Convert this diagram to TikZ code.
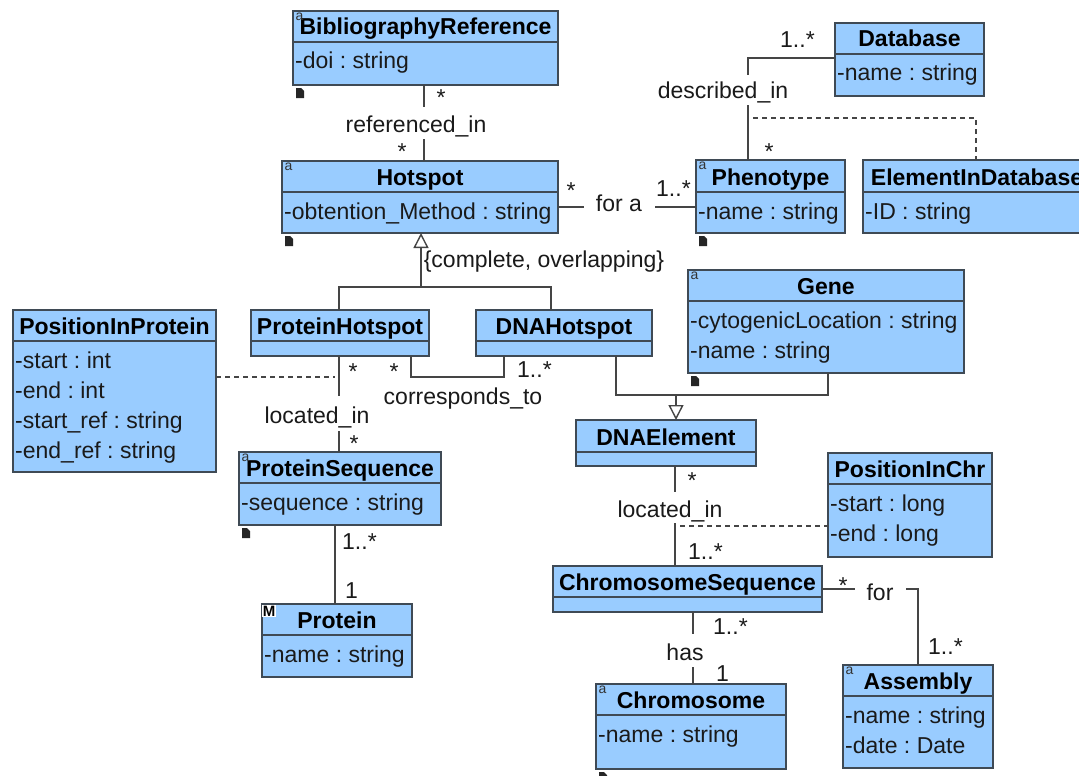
\documentclass[tikz,border=0pt]{standalone}
\usepackage{fontspec}
\setmainfont{Liberation Sans}
\usetikzlibrary{arrows.meta}
\frenchspacing
\definecolor{boxfill}{HTML}{99CCFF}
\definecolor{boxline}{HTML}{3F4A55}
\definecolor{conn}{HTML}{454545}
\definecolor{txt}{HTML}{1A1A1A}
\tikzset{
  umlbox/.style={draw=boxline,fill=boxfill,line width=1.4pt,inner sep=0pt,outer sep=0pt},
  sepline/.style={draw=boxline,line width=1.4pt},
  titletext/.style={font=\fontsize{23}{27}\selectfont\bfseries\frenchspacing,text=black,inner sep=0pt,anchor=base},
  attrtext/.style={font=\fontsize{23}{27}\selectfont\frenchspacing,text=txt,inner sep=0pt,anchor=base west},
  link/.style={draw=conn,line width=1.4pt},
  dashlink/.style={draw=conn,line width=1.1pt,dash pattern=on 5pt off 4pt},
  genlink/.style={draw=conn,line width=1.4pt,-{Triangle[open,fill=white,length=15pt,width=15pt,line width=1.4pt]}},
  lbl/.style={font=\fontsize{23}{27}\selectfont,text=txt,inner sep=0pt,anchor=base,fill=white},
  plainlbl/.style={font=\fontsize{23}{27}\selectfont,text=txt,inner sep=0pt,anchor=base},
  mult/.style={font=\fontsize{23}{27}\selectfont,text=txt,inner sep=0pt,anchor=base},
  multl/.style={font=\fontsize{23}{27}\selectfont,text=txt,inner sep=0pt,anchor=base west},
  aicon/.style={font=\fontsize{14}{15}\selectfont,text=black!80,inner sep=0pt},
  micon/.style={font=\fontsize{15}{16}\selectfont\bfseries,text=black,inner sep=.6pt,fill=white},
}
% id, x0, y0, x1, y1, separator y, title, attributes
\newcommand{\umlclass}[8]{%
  \path[umlbox] (#2,#3) rectangle (#4,#5);
  \node[inner sep=0pt,outer sep=0pt,minimum width=#4pt-#2pt,minimum height=#5pt-#3pt] (#1) at ({(#2+#4)/2},{(#3+#5)/2}) {};
  \draw[sepline] (#2,#6) -- (#4,#6);
  \node[titletext] (#1-title) at ({(#2+#4)/2},#6-7) {#7};
  \foreach \t [count=\i] in {#8} {
    \ifx\t\empty\else
    \node[attrtext] (#1-attr\i) at (#2+2,{#6+27+30*(\i-1)}) {\t};
    \fi
  }
}
\newcommand{\aico}[1]{\node[aicon] (#1-a) at ([shift={(6.5,6)}]#1.north west) {a};}
\newcommand{\docico}[1]{\fill[black!85] ([shift={(3,3)}]#1.south west) -- ++(5,0) -- ++(3,3) -- ++(0,7) -- ++(-8,0) -- cycle;}
\begin{document}
\begin{tikzpicture}[x=1pt,y=-1pt]
\useasboundingbox (0,0) rectangle (1079,776);
\fill[white] (0,0) rectangle (1079,776);

% coordinates for connectors
\coordinate (wRef) at (424,0);
\coordinate (dbElbow) at (748,58);
\coordinate (assocFor) at (0,207);
\coordinate (assocDash) at (753,118);
\coordinate (eidDash) at (976,118);
\coordinate (genStem) at (421,287);
\coordinate (genL) at (339,287);
\coordinate (genR) at (551,287);
\coordinate (corrL) at (411,377);
\coordinate (corrR) at (504,377);
\coordinate (pipDash) at (335,377);
\coordinate (wPseq) at (335,0);
\coordinate (dnaL) at (616,395);
\coordinate (dnaM) at (676,395);
\coordinate (dnaR) at (828,395);
\coordinate (wDnaEl) at (675,0);
\coordinate (chrDash) at (680,526);
\coordinate (wHas) at (693,0);
\coordinate (forElbow) at (918,589);

% classes
\umlclass{bib}{293}{11}{558}{85}{42}{BibliographyReference}{-doi : string}
\umlclass{hot}{282}{161}{558}{233}{192}{Hotspot}{-obtention\_Method : string}
\umlclass{db}{835}{23}{984}{96}{54}{Database}{-name : string}
\umlclass{phe}{696}{160}{845}{233}{192}{Phenotype}{-name : string}
\umlclass{eid}{863}{160}{1091}{233}{192}{ElementInDatabase}{-ID : string}
\umlclass{phot}{251}{310}{429}{356}{341}{ProteinHotspot}{}
\umlclass{dhot}{476}{310}{652}{356}{341}{DNAHotspot}{}
\umlclass{gene}{688}{270}{964}{373}{301}{Gene}{-cytogenicLocation : string,-name : string}
\umlclass{pip}{13}{310}{216}{472}{341}{PositionInProtein}{-start : int,-end : int,-start\_ref : string,-end\_ref : string}
\umlclass{pseq}{239}{452}{441}{525}{483}{ProteinSequence}{-sequence : string}
\umlclass{prot}{262}{604}{412}{677}{635}{Protein}{-name : string}
\umlclass{dnael}{576}{420}{756}{466}{452}{DNAElement}{}
\umlclass{pic}{828}{453}{992}{557}{484}{PositionInChr}{-start : long,-end : long}
\umlclass{cseq}{553}{566}{822}{612}{597}{ChromosomeSequence}{}
\umlclass{chrom}{596}{684}{786}{769}{715}{Chromosome}{-name : string}
\umlclass{asm}{843}{665}{993}{768}{696}{Assembly}{-name : string,-date : Date}

% connectors
\draw[link] (bib.south -| wRef) -- (hot.north -| wRef);
\draw[link] (db.west |- dbElbow) -- (dbElbow) -- (phe.north -| dbElbow);
\draw[dashlink] (assocDash) -- (eidDash) -- (eid.north -| eidDash);
\draw[link] (hot.east |- assocFor) -- (phe.west |- assocFor);
\draw[genlink] (genStem) -- (hot.south -| genStem);
\draw[link] (phot.north -| genL) -- (genL) -- (genR) -- (dhot.north -| genR);
\draw[link] (phot.south -| corrL) -- (corrL) -- (corrR) -- (dhot.south -| corrR);
\draw[link] (phot.south -| genL) -- (pseq.north -| genL);
\draw[dashlink] (pip.east |- pipDash) -- (pipDash);
\draw[link] (pseq.south -| wPseq) -- (prot.north -| wPseq);
\draw[link] (dhot.south -| dnaL) -- (dnaL) -- (dnaR) -- (gene.south -| dnaR);
\draw[genlink] (dnaM) -- (dnael.north -| dnaM);
\draw[link] (dnael.south -| wDnaEl) -- (cseq.north -| wDnaEl);
\draw[dashlink] (chrDash) -- (pic.west |- chrDash);
\draw[link] (cseq.south -| wHas) -- (chrom.north -| wHas);
\draw[link] (cseq.east |- forElbow) -- (forElbow) -- (asm.north -| forElbow);

% association labels (white backing opens the gap in the line)
\node[lbl,text height=25pt,text depth=7pt] (lRef) at (416,132) {referenced\_in};
\node[lbl,text height=24pt,text depth=6pt] (lDesc) at (723,99) {described\_in};
\node[lbl,minimum width=71pt] (lFora) at (619,211) {for a};
\node[plainlbl] (lComp) at (544,267) {\{complete, overlapping\}};
\node[lbl,text height=27pt,text depth=8pt] (lLocP) at (317,423) {located\_in};
\node[plainlbl] (lCorr) at (463,404) {corresponds\_to};
\node[lbl,text height=25pt,text depth=6pt] (lLocD) at (670,517) {located\_in};
\node[lbl,text height=26pt,text depth=7pt] (lHas) at (685,660) {has};
\node[lbl,minimum width=51pt] (lFor) at (880,600) {for};

% multiplicities
\node[mult] (m1) at (441,106) {*};
\node[mult] (m2) at (402,159) {*};
\node[mult] (m3) at (571,198) {*};
\node[mult] (m4) at (769,159) {*};
\node[mult] (m5) at (353,379) {*};
\node[mult] (m6) at (394,379) {*};
\node[mult] (m7) at (354,451) {*};
\node[mult] (m8) at (692,488) {*};
\node[mult] (m9) at (843,593) {*};
\node[multl] (n1) at (780,48) {1..*};
\node[multl] (n2) at (656,196) {1..*};
\node[multl] (n3) at (517,377) {1..*};
\node[multl] (n4) at (342,549) {1..*};
\node[multl] (n5) at (688,559) {1..*};
\node[multl] (n6) at (713,634) {1..*};
\node[multl] (n7) at (928,654) {1..*};
\node[multl] (n8) at (345,598) {1};
\node[multl] (n9) at (716,681) {1};

% icons
\aico{bib}\aico{hot}\aico{phe}\aico{pseq}\aico{gene}\aico{chrom}\aico{asm}
\docico{bib}\docico{hot}\docico{phe}\docico{pseq}\docico{gene}\docico{chrom}
\node[micon] (prot-m) at ([shift={(7,7)}]prot.north west) {M};
\end{tikzpicture}
\end{document}
